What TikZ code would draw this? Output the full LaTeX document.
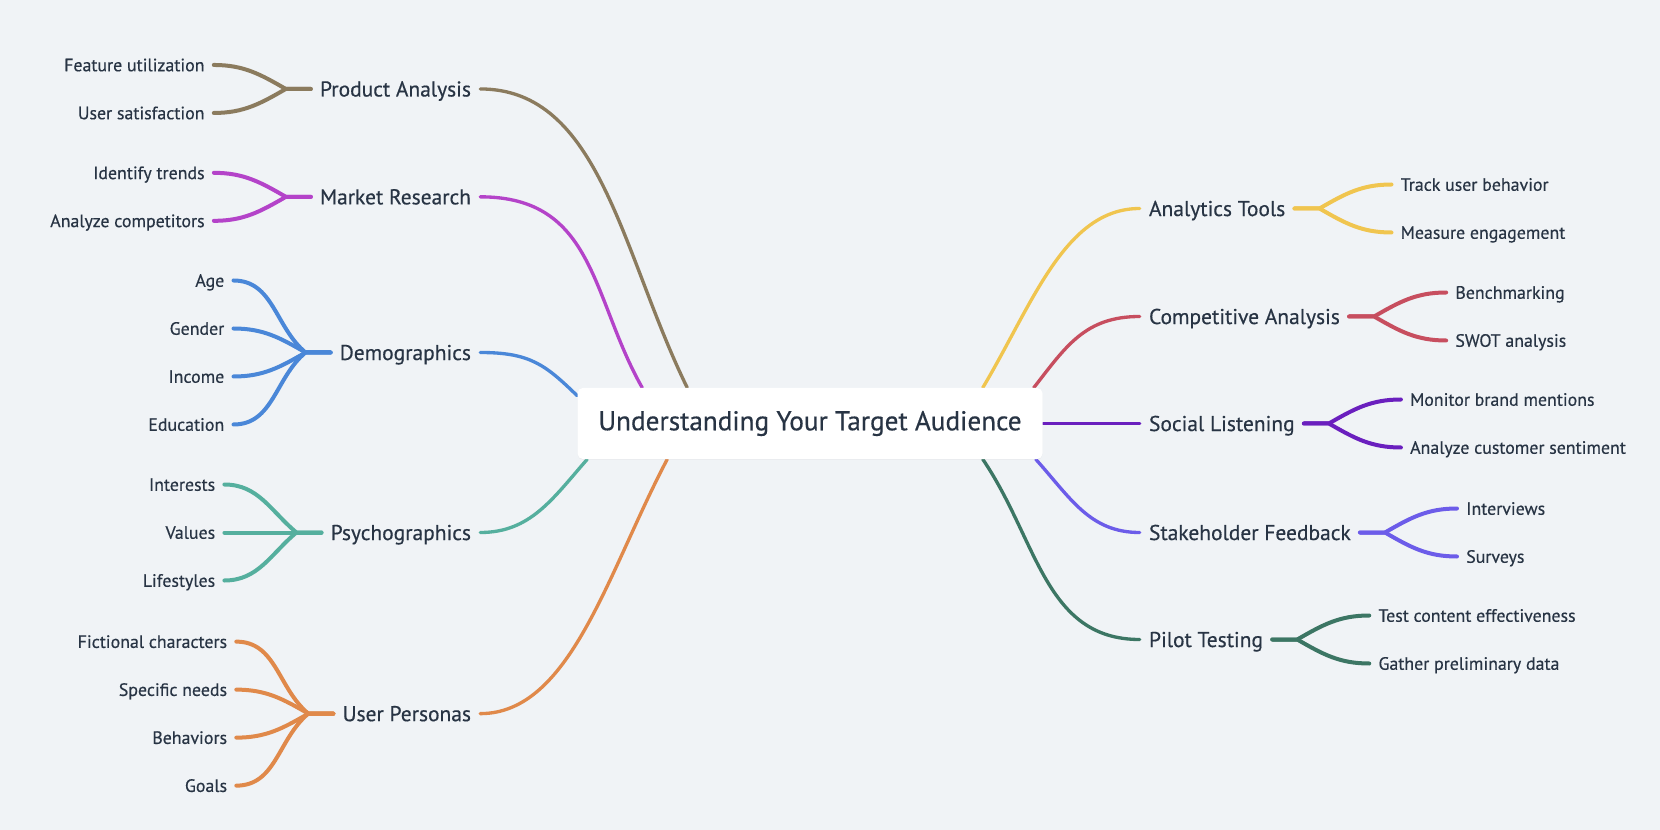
\documentclass[tikz,border=0pt]{standalone}
\usepackage{fontspec}
\setmainfont{PT Sans}[FakeBold=0.45]
\usepackage{tikz}
\usetikzlibrary{positioning,calc,backgrounds,shadows}
\definecolor{CanvasGray}{HTML}{F0F3F6}
\definecolor{TextSlate}{HTML}{283444}
\definecolor{BranchBrown}{HTML}{8B7B5E}
\definecolor{BranchMagenta}{HTML}{B443C9}
\definecolor{BranchBlue}{HTML}{4A87D8}
\definecolor{BranchTeal}{HTML}{55AF9E}
\definecolor{BranchOrange}{HTML}{E0894A}
\definecolor{BranchYellow}{HTML}{F0C54F}
\definecolor{BranchRed}{HTML}{C74E5F}
\definecolor{BranchPurple}{HTML}{6A1FBE}
\definecolor{BranchViolet}{HTML}{6C5CE9}
\definecolor{BranchGreen}{HTML}{3C7664}
\tikzset{
  RT/.style={rectangle,rounded corners=4pt,fill=white,draw=none,
             minimum width=348.75pt,minimum height=53.25pt,
             text=TextSlate,font=\fontsize{20.4pt}{24pt}\selectfont,
             drop shadow={shadow xshift=0pt,shadow yshift=-0.6pt,opacity=0.07}},
  LV/.style={inner xsep=6.75pt,inner ysep=2pt,text height=11.3pt,text depth=0pt,
             text=TextSlate,font=\fontsize{16.1pt}{19pt}\selectfont},
  LF/.style={inner xsep=6.75pt,inner ysep=2pt,text height=9.4pt,text depth=0pt,
             text=TextSlate,font=\fontsize{13.4pt}{16pt}\selectfont},
  lk/.style={line width=2.5pt,line cap=round},
  sk/.style={line width=3pt,line cap=round},
  cBr/.style={draw=BranchBrown},
  cMa/.style={draw=BranchMagenta},
  cBl/.style={draw=BranchBlue},
  cTe/.style={draw=BranchTeal},
  cOr/.style={draw=BranchOrange},
  cYe/.style={draw=BranchYellow},
  cRe/.style={draw=BranchRed},
  cPu/.style={draw=BranchPurple},
  cVi/.style={draw=BranchViolet},
  cGr/.style={draw=BranchGreen}
}

\begin{document}
\begin{tikzpicture}[x=0.75pt,y=-0.75pt,node distance=72.75pt]
  \node[RT] (root) at (810,423.5) {Understanding Your Target Audience};

  % left branches
  \node[LV,left=of root,yshift=250.9pt] (prod) {Product Analysis};
  \node[LV,left=of root,yshift=170pt] (mkt) {Market Research};
  \node[LV,left=of root,yshift=53.25pt] (demo) {Demographics};
  \node[LV,left=of root,yshift=-81.75pt] (psy) {Psychographics};
  \node[LV,left=of root,yshift=-217.6pt] (pers) {User Personas};

  % right branches
  \node[LV,right=of root,yshift=161.25pt] (anl) {Analytics Tools};
  \node[LV,right=of root,yshift=80.25pt] (comp) {Competitive Analysis};
  \node[LV,right=of root] (soc) {Social Listening};
  \node[LV,right=of root,yshift=-81.75pt] (stk) {Stakeholder Feedback};
  \node[LV,right=of root,yshift=-162pt] (pilot) {Pilot Testing};

  % leaves
  \node[LF,left=of prod,yshift=18pt] (featu) {Feature utilization};
  \node[LF,left=of prod,yshift=-18pt] (usat) {User satisfaction};
  \node[LF,left=of mkt,yshift=18pt] (trend) {Identify trends};
  \node[LF,left=of mkt,yshift=-18pt] (rival) {Analyze competitors};
  \node[LF,left=of demo,yshift=54pt] (age) {Age};
  \node[LF,left=of demo,yshift=18pt] (gend) {Gender};
  \node[LF,left=of demo,yshift=-18pt] (inc) {Income};
  \node[LF,left=of demo,yshift=-54pt] (edu) {Education};
  \node[LF,left=of psy,yshift=36pt] (intr) {Interests};
  \node[LF,left=of psy] (vals) {Values};
  \node[LF,left=of psy,yshift=-36pt] (life) {Lifestyles};
  \node[LF,left=of pers,yshift=54pt] (fict) {Fictional characters};
  \node[LF,left=of pers,yshift=18pt] (needs) {Specific needs};
  \node[LF,left=of pers,yshift=-18pt] (behv) {Behaviors};
  \node[LF,left=of pers,yshift=-54pt] (goal) {Goals};

  \node[LF,right=of anl,yshift=18pt] (track) {Track user behavior};
  \node[LF,right=of anl,yshift=-18pt] (engag) {Measure engagement};
  \node[LF,right=of comp,yshift=18pt] (bench) {Benchmarking};
  \node[LF,right=of comp,yshift=-18pt] (swot) {SWOT analysis};
  \node[LF,right=of soc,yshift=18pt] (brand) {Monitor brand mentions};
  \node[LF,right=of soc,yshift=-18pt] (sent) {Analyze customer sentiment};
  \node[LF,right=of stk,yshift=18pt] (intv) {Interviews};
  \node[LF,right=of stk,yshift=-18pt] (surv) {Surveys};
  \node[LF,right=of pilot,yshift=18pt] (tcont) {Test content effectiveness};
  \node[LF,right=of pilot,yshift=-18pt] (gath) {Gather preliminary data};

  % junctions
  \coordinate[left=18.75pt of prod] (prodJ);
  \coordinate[left=18.75pt of mkt] (mktJ);
  \coordinate[left=18.75pt of demo] (demoJ);
  \coordinate[left=18.75pt of psy] (psyJ);
  \coordinate[left=18.75pt of pers] (persJ);
  \coordinate[right=18.75pt of anl] (anlJ);
  \coordinate[right=18.75pt of comp] (compJ);
  \coordinate[right=18.75pt of soc] (socJ);
  \coordinate[right=18.75pt of stk] (stkJ);
  \coordinate[right=18.75pt of pilot] (pilotJ);

  \begin{scope}[on background layer]
    \fill[CanvasGray] (0,0) rectangle (1660,830);

    % root to branches
    \draw[lk,cBr] ($(root.north west)+(110,0)$) .. controls +(-66,-135) and +(120,0) .. (prod.east);
    \draw[lk,cMa] ($(root.north west)+(65,0)$) .. controls +(-51,-90) and +(115,0) .. (mkt.east);
    \draw[lk,cBl] ($(root.north west)+(0,8)$) .. controls +(-32,-31) and +(50,0) .. (demo.east);
    \draw[lk,cTe] ($(root.south west)+(10,0)$) .. controls +(-35,40) and +(50,0) .. (psy.east);
    \draw[lk,cOr] ($(root.south west)+(90,0)$) .. controls +(-60,114) and +(90,0) .. (pers.east);
    \draw[lk,cYe] ($(root.north east)+(-60,0)$) .. controls +(50,-84) and +(-75,0) .. (anl.west);
    \draw[lk,cRe] ($(root.north east)+(-9,0)$) .. controls +(32,-41) and +(-55,0) .. (comp.west);
    \draw[lk,cPu] (root.east) -- (soc.west);
    \draw[lk,cVi] ($(root.south east)+(-7,0)$) .. controls +(35,39) and +(-50,0) .. (stk.west);
    \draw[lk,cGr] ($(root.south east)+(-60,0)$) .. controls +(55,81) and +(-95,0) .. (pilot.west);

    % branches to leaves
    \draw[sk,cBr] (featu.east) to[out=0,in=150] (prodJ) -- (prod.west);
    \draw[sk,cBr] (usat.east) to[out=0,in=210] (prodJ) -- (prod.west);
    \draw[sk,cMa] (trend.east) to[out=0,in=150] (mktJ) -- (mkt.west);
    \draw[sk,cMa] (rival.east) to[out=0,in=210] (mktJ) -- (mkt.west);
    \draw[sk,cBl] (age.east) to[out=0,in=140] (demoJ) -- (demo.west);
    \draw[sk,cBl] (gend.east) to[out=0,in=150] (demoJ) -- (demo.west);
    \draw[sk,cBl] (inc.east) to[out=0,in=210] (demoJ) -- (demo.west);
    \draw[sk,cBl] (edu.east) to[out=0,in=220] (demoJ) -- (demo.west);
    \draw[sk,cTe] (intr.east) to[out=0,in=140] (psyJ) -- (psy.west);
    \draw[sk,cTe] (vals.east) -- (psy.west);
    \draw[sk,cTe] (life.east) to[out=0,in=220] (psyJ) -- (psy.west);
    \draw[sk,cOr] (fict.east) to[out=0,in=140] (persJ) -- (pers.west);
    \draw[sk,cOr] (needs.east) to[out=0,in=150] (persJ) -- (pers.west);
    \draw[sk,cOr] (behv.east) to[out=0,in=210] (persJ) -- (pers.west);
    \draw[sk,cOr] (goal.east) to[out=0,in=220] (persJ) -- (pers.west);

    \draw[sk,cYe] (anl.east) -- (anlJ) to[out=30,in=180] (track.west);
    \draw[sk,cYe] (anl.east) -- (anlJ) to[out=-30,in=180] (engag.west);
    \draw[sk,cRe] (comp.east) -- (compJ) to[out=30,in=180] (bench.west);
    \draw[sk,cRe] (comp.east) -- (compJ) to[out=-30,in=180] (swot.west);
    \draw[sk,cPu] (soc.east) -- (socJ) to[out=30,in=180] (brand.west);
    \draw[sk,cPu] (soc.east) -- (socJ) to[out=-30,in=180] (sent.west);
    \draw[sk,cVi] (stk.east) -- (stkJ) to[out=30,in=180] (intv.west);
    \draw[sk,cVi] (stk.east) -- (stkJ) to[out=-30,in=180] (surv.west);
    \draw[sk,cGr] (pilot.east) -- (pilotJ) to[out=30,in=180] (tcont.west);
    \draw[sk,cGr] (pilot.east) -- (pilotJ) to[out=-30,in=180] (gath.west);
  \end{scope}
\end{tikzpicture}
\end{document}
